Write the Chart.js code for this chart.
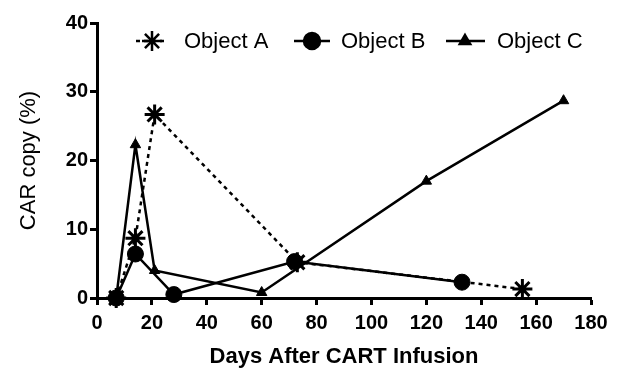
<!DOCTYPE html>
<html>
<head>
<meta charset="utf-8">
<script src="https://cdn.jsdelivr.net/npm/chart.js@4"></script>
<style>
  html, body { margin: 0; padding: 0; background: #fff; }
  #wrap { width: 640px; height: 377px; }
</style>
</head>
<body>
<div id="wrap"><canvas id="chart" width="640" height="377"></canvas></div>
<script>
// data
var seriesNames = ['Object A', 'Object B', 'Object C'];
var daysA = [7, 14, 21, 73, 155];
var carA = [0, 8.7, 26.7, 5.2, 1.3];
var daysB = [7, 14, 28, 72, 133];
var carB = [0, 6.4, 0.5, 5.3, 2.3];
var daysC = [7, 14, 21, 60, 120, 170];
var carC = [0, 22.3, 4.0, 0.8, 17.0, 28.7];
var xTicks = [0, 20, 40, 60, 80, 100, 120, 140, 160, 180];
var yTicks = [0, 10, 20, 30, 40];

var FONT = '"Liberation Sans", Arial, sans-serif';

function pts(xs, ys) {
    return xs.map(function (x, i) { return { x: x, y: ys[i] }; });
}

// legend drawn by hand, line + marker like the original
var legendPlugin = {
    id: 'legendRow',
    afterDraw: function (chart) {
        var ctx = chart.ctx;
        var y = 41;
        var items = [
            { x0: 136, x1: 164, mx: 152, text: 'Object A', tx: 184, ds: 0 },
            { x0: 294, x1: 330, mx: 312, text: 'Object B', tx: 341, ds: 1 },
            { x0: 446, x1: 485, mx: 465, text: 'Object C', tx: 497, ds: 2 }
        ];
        ctx.save();
        items.forEach(function (it) {
            var d = chart.data.datasets[it.ds];
            ctx.strokeStyle = '#000';
            ctx.lineWidth = 2.5;
            ctx.setLineDash(d.borderDash || []);
            ctx.beginPath();
            ctx.moveTo(it.x0, y);
            ctx.lineTo(it.x1, y);
            ctx.stroke();
            ctx.setLineDash([]);
            Chart.helpers.drawPoint(ctx, {
                pointStyle: d.pointStyle,
                radius: d.pointRadius,
                rotation: 0,
                borderWidth: d.pointBorderWidth
            }, it.mx, y);
            ctx.fillStyle = '#000';
            ctx.font = '22px ' + FONT;
            ctx.textBaseline = 'middle';
            ctx.fillText(it.text, it.tx, y + 1);
        });
        ctx.restore();
    }
};

var ctx = document.getElementById('chart').getContext('2d');
var chart = new Chart(ctx, {
    type: 'line',
    data: {
        datasets: [{
            label: seriesNames[0],
            data: pts(daysA, carA),
            borderColor: '#000',
            backgroundColor: '#000',
            borderWidth: 2.5,
            borderDash: [4, 4],
            pointStyle: 'star',
            pointRadius: 10,
            pointBorderWidth: 3,
            pointBorderColor: '#000',
            pointBackgroundColor: '#000'
        }, {
            label: seriesNames[1],
            data: pts(daysB, carB),
            borderColor: '#000',
            backgroundColor: '#000',
            borderWidth: 2.5,
            pointStyle: 'circle',
            pointRadius: 8,
            pointBorderWidth: 1,
            pointBorderColor: '#000',
            pointBackgroundColor: '#000'
        }, {
            label: seriesNames[2],
            data: pts(daysC, carC),
            borderColor: '#000',
            backgroundColor: '#000',
            borderWidth: 2.5,
            pointStyle: 'triangle',
            pointRadius: 6,
            pointBorderWidth: 1,
            pointBorderColor: '#000',
            pointBackgroundColor: '#000'
        }]
    },
    options: {
        responsive: false,
        animation: false,
        clip: false,
        layout: { padding: { top: 23, right: 49, left: 0, bottom: 0 } },
        plugins: {
            legend: { display: false },
            tooltip: { enabled: false }
        },
        scales: {
            x: {
                type: 'linear',
                min: 0,
                max: 180,
                afterBuildTicks: function (s) { s.ticks = xTicks.map(function (v) { return { value: v }; }); },
                afterFit: function (s) { s.height = 79; },
                border: { color: '#000', width: 3 },
                grid: { drawOnChartArea: false, color: '#000', tickLength: 7, tickWidth: 3 },
                ticks: {
                    color: '#000',
                    padding: 6,
                    maxRotation: 0,
                    font: { family: FONT, size: 20, weight: 'bold' }
                },
                title: {
                    display: true,
                    text: 'Days After CART Infusion',
                    color: '#000',
                    padding: { top: 0, bottom: 7 },
                    font: { family: FONT, size: 22, weight: 'bold' }
                }
            },
            y: {
                min: 0,
                max: 40,
                afterBuildTicks: function (s) { s.ticks = yTicks.map(function (v) { return { value: v }; }); },
                afterFit: function (s) { s.width = 97; },
                border: { color: '#000', width: 3 },
                grid: { drawOnChartArea: false, color: '#000', tickLength: 7, tickWidth: 3 },
                ticks: {
                    color: '#000',
                    padding: 2,
                    font: { family: FONT, size: 20, weight: 'bold' }
                },
                title: {
                    display: true,
                    text: 'CAR copy (%)',
                    color: '#000',
                    padding: { top: 16, bottom: 0 },
                    font: { family: FONT, size: 22 }
                }
            }
        }
    },
    plugins: [legendPlugin]
});
</script>
</body>
</html>
